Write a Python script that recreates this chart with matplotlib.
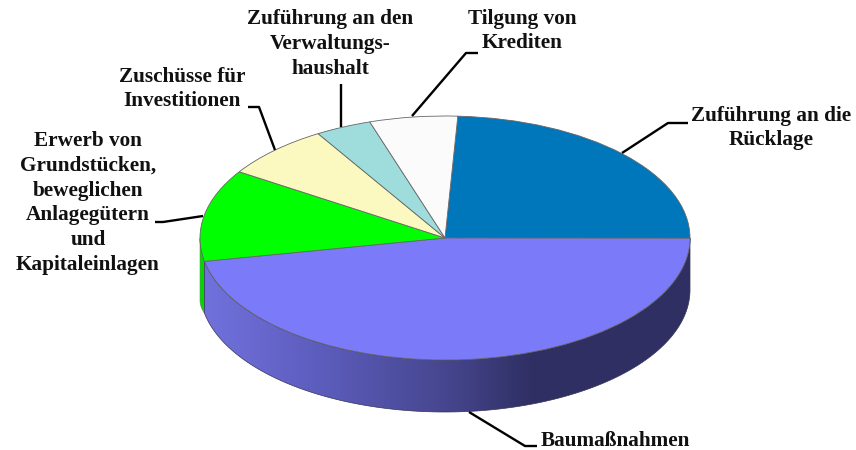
import numpy as np
import matplotlib
matplotlib.use('Agg')
import matplotlib.pyplot as plt
from matplotlib.colors import LinearSegmentedColormap
from matplotlib.patches import Polygon

labels = ['Zuführung an die\nRücklage', 'Baumaßnahmen',
          'Erwerb von\nGrundstücken,\nbeweglichen\nAnlagegütern\nund\nKapitaleinlagen',
          'Zuschüsse für\nInvestitionen', 'Zuführung an den\nVerwaltungs-\nhaushalt',
          'Tilgung von\nKrediten']
values = [24.2, 46.9, 12.2, 7.2, 3.7, 5.8]
colors = ['#0077bb', '#7b7bf9', '#00ff00', '#fbf9c0', '#9fdcdc', '#fbfbfb']
start_ang = 87

# label centre and leader line, in pixels of the image
label_xy = [(771, 128), (615, 441), (88, 203), (182, 89), (330, 44), (522, 31)]
leaders = [[(622, 153), (668, 123), (688, 123)],
           [(469, 412), (525, 446), (537, 446)],
           [(203, 216), (163, 222), (155, 222)],
           [(275, 150), (259, 107), (248, 107)],
           [(341, 127), (341, 84)],
           [(412, 116), (466, 53), (478, 53)]]

W, H = 856, 450
cx, cy, rx, ry, depth = 445, 238, 245, 122, 52

fig = plt.figure(figsize=(W/100, H/100), dpi=100)
ax = fig.add_axes([0, 0, 1, 1])
ax.axis('off')

# rim of the pie, in unit circle coordinates
d = depth/ry
xlim = (-cx/rx, (W-cx)/rx)
ylim = ((cy-H)/ry, cy/ry)

def wall(a0, a1, d0=None):
    t = np.radians(np.linspace(a0, a1, 150))
    x = np.cos(t)
    y = np.sin(t)
    # the green sliver reaches a bit lower at the far left
    dd = np.linspace(d if d0 is None else d0, d, 150)
    return np.r_[np.c_[x, y], np.c_[x, y-dd][::-1]]

ang = start_ang - np.cumsum(values)*360/sum(values)
violet_end = ang[1]

# side walls first
green_wall = Polygon(wall(180, violet_end+360, d*1.2), closed=True, fc='#00d800', ec='#777777', lw=0.4, zorder=1)
ax.add_patch(green_wall)

cmap = LinearSegmentedColormap.from_list('side', [(0, '#7272de'), (0.25, '#5c5cbc'), (0.5, '#46468f'),
                                                  (0.68, '#2f2f63'), (1, '#2f2f63')])
grad = np.linspace(0, 1, 256).reshape(1, -1)
im = ax.imshow(grad, cmap=cmap, extent=(-1, 1, -1-d, 0.3), aspect='auto', zorder=2)
poly = Polygon(wall(0, violet_end), closed=True, fc='none', ec='#333355', lw=0.5, zorder=3)
ax.add_patch(poly)
im.set_clip_path(poly)

wedges, _ = ax.pie(values, colors=colors, startangle=start_ang, counterclock=False,
                   wedgeprops=dict(edgecolor='#666666', linewidth=0.6, zorder=4))
ax.set_aspect('auto')
ax.set_xlim(*xlim)
ax.set_ylim(*ylim)

# labels on an overlay in pixels
ov = fig.add_axes([0, 0, 1, 1])
ov.axis('off')
ov.set_xlim(0, W)
ov.set_ylim(H, 0)
for txt, (x, y), line in zip(labels, label_xy, leaders):
    ov.text(x, y, txt, ha='center', va='center', family='Liberation Serif', weight='bold',
            fontsize=15.3, color='#111111', linespacing=1.33)
    p = np.array(line)
    ov.plot(p[:, 0], p[:, 1], color='black', lw=1.7, solid_capstyle='butt')

plt.savefig('out.png', dpi=100)
